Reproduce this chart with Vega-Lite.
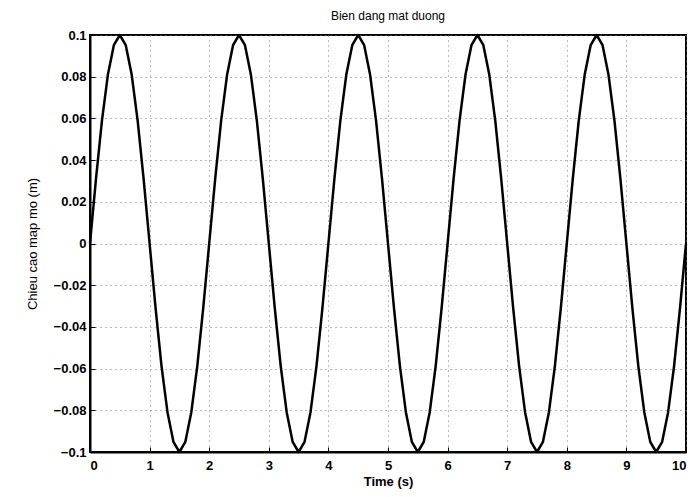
{
  "$schema": "https://vega.github.io/schema/vega-lite/v6.json",
  "autosize": "none",
  "width": 596,
  "height": 417,
  "padding": {"left": 90, "top": 35, "right": 14, "bottom": 45},
  "background": "white",
  "title": {"text": "Bien dang mat duong", "fontSize": 12, "font": "Liberation Sans", "fontWeight": "normal", "color": "black", "offset": 6},
  "config": {
    "view": {"stroke": "black", "strokeWidth": 2},
    "axis": {
      "labelFont": "Liberation Sans", "labelFontSize": 13, "labelFontWeight": "bold", "labelColor": "black",
      "titleFont": "Liberation Sans", "titleFontSize": 13, "titleColor": "black",
      "domainColor": "black", "domainWidth": 2, "tickColor": "black", "tickSize": -5, "tickWidth": 1,
      "grid": true, "gridColor": "#777", "gridDash": [1, 4], "gridWidth": 1, "labelPadding": 9
    }
  },
  "data": {"values": [
    {"t": 0.0, "y": 0}, {"t": 0.1, "y": 0.0309}, {"t": 0.2, "y": 0.0588}, {"t": 0.3, "y": 0.0809}, {"t": 0.4, "y": 0.0951},
    {"t": 0.5, "y": 0.1}, {"t": 0.6, "y": 0.0951}, {"t": 0.7, "y": 0.0809}, {"t": 0.8, "y": 0.0588}, {"t": 0.9, "y": 0.0309},
    {"t": 1.0, "y": 0}, {"t": 1.1, "y": -0.0309}, {"t": 1.2, "y": -0.0588}, {"t": 1.3, "y": -0.0809}, {"t": 1.4, "y": -0.0951},
    {"t": 1.5, "y": -0.1}, {"t": 1.6, "y": -0.0951}, {"t": 1.7, "y": -0.0809}, {"t": 1.8, "y": -0.0588}, {"t": 1.9, "y": -0.0309},
    {"t": 2.0, "y": 0}, {"t": 2.1, "y": 0.0309}, {"t": 2.2, "y": 0.0588}, {"t": 2.3, "y": 0.0809}, {"t": 2.4, "y": 0.0951},
    {"t": 2.5, "y": 0.1}, {"t": 2.6, "y": 0.0951}, {"t": 2.7, "y": 0.0809}, {"t": 2.8, "y": 0.0588}, {"t": 2.9, "y": 0.0309},
    {"t": 3.0, "y": 0}, {"t": 3.1, "y": -0.0309}, {"t": 3.2, "y": -0.0588}, {"t": 3.3, "y": -0.0809}, {"t": 3.4, "y": -0.0951},
    {"t": 3.5, "y": -0.1}, {"t": 3.6, "y": -0.0951}, {"t": 3.7, "y": -0.0809}, {"t": 3.8, "y": -0.0588}, {"t": 3.9, "y": -0.0309},
    {"t": 4.0, "y": 0}, {"t": 4.1, "y": 0.0309}, {"t": 4.2, "y": 0.0588}, {"t": 4.3, "y": 0.0809}, {"t": 4.4, "y": 0.0951},
    {"t": 4.5, "y": 0.1}, {"t": 4.6, "y": 0.0951}, {"t": 4.7, "y": 0.0809}, {"t": 4.8, "y": 0.0588}, {"t": 4.9, "y": 0.0309},
    {"t": 5.0, "y": 0}, {"t": 5.1, "y": -0.0309}, {"t": 5.2, "y": -0.0588}, {"t": 5.3, "y": -0.0809}, {"t": 5.4, "y": -0.0951},
    {"t": 5.5, "y": -0.1}, {"t": 5.6, "y": -0.0951}, {"t": 5.7, "y": -0.0809}, {"t": 5.8, "y": -0.0588}, {"t": 5.9, "y": -0.0309},
    {"t": 6.0, "y": 0}, {"t": 6.1, "y": 0.0309}, {"t": 6.2, "y": 0.0588}, {"t": 6.3, "y": 0.0809}, {"t": 6.4, "y": 0.0951},
    {"t": 6.5, "y": 0.1}, {"t": 6.6, "y": 0.0951}, {"t": 6.7, "y": 0.0809}, {"t": 6.8, "y": 0.0588}, {"t": 6.9, "y": 0.0309},
    {"t": 7.0, "y": 0}, {"t": 7.1, "y": -0.0309}, {"t": 7.2, "y": -0.0588}, {"t": 7.3, "y": -0.0809}, {"t": 7.4, "y": -0.0951},
    {"t": 7.5, "y": -0.1}, {"t": 7.6, "y": -0.0951}, {"t": 7.7, "y": -0.0809}, {"t": 7.8, "y": -0.0588}, {"t": 7.9, "y": -0.0309},
    {"t": 8.0, "y": 0}, {"t": 8.1, "y": 0.0309}, {"t": 8.2, "y": 0.0588}, {"t": 8.3, "y": 0.0809}, {"t": 8.4, "y": 0.0951},
    {"t": 8.5, "y": 0.1}, {"t": 8.6, "y": 0.0951}, {"t": 8.7, "y": 0.0809}, {"t": 8.8, "y": 0.0588}, {"t": 8.9, "y": 0.0309},
    {"t": 9.0, "y": 0}, {"t": 9.1, "y": -0.0309}, {"t": 9.2, "y": -0.0588}, {"t": 9.3, "y": -0.0809}, {"t": 9.4, "y": -0.0951},
    {"t": 9.5, "y": -0.1}, {"t": 9.6, "y": -0.0951}, {"t": 9.7, "y": -0.0809}, {"t": 9.8, "y": -0.0588}, {"t": 9.9, "y": -0.0309},
    {"t": 10.0, "y": 0}
  ]},
  "mark": {"type": "line", "color": "black", "strokeWidth": 2.5, "strokeJoin": "round"},
  "encoding": {
    "x": {"field": "t", "type": "quantitative", "scale": {"domain": [0, 10], "nice": false},
      "axis": {"values": [0,1,2,3,4,5,6,7,8,9,10], "format": "d", "title": "Time (s)", "titleFontWeight": "bold", "titlePadding": 3, "labelPadding": 12}},
    "y": {"field": "y", "type": "quantitative", "scale": {"domain": [-0.1, 0.1], "nice": false},
      "axis": {"values": [-0.1,-0.08,-0.06,-0.04,-0.02,0,0.02,0.04,0.06,0.08,0.1], "format": "~g", "title": "Chieu cao map mo (m)", "titleFontWeight": "normal", "titlePadding": 14}}
  }
}
